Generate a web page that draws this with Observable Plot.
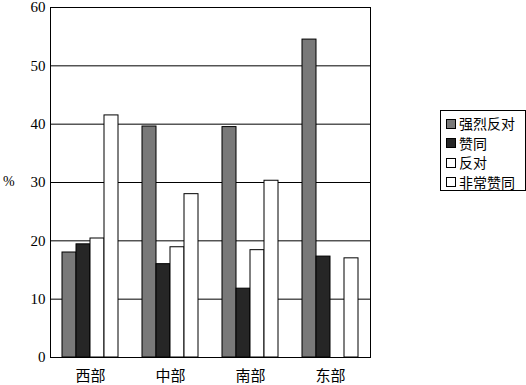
<!DOCTYPE html>
<html><head><meta charset="utf-8">
<script src="https://cdn.jsdelivr.net/npm/d3@7"></script>
<script src="https://cdn.jsdelivr.net/npm/@observablehq/plot@0.6"></script>
<style>
body{margin:0;background:#fff;}
#wrap{position:relative;width:526px;height:385px;font-family:"Liberation Serif","Times New Roman","Tinos","DejaVu Serif","Noto Sans CJK SC",serif;}
#wrap svg, #wrap svg text{font-family:"Liberation Serif","Times New Roman","Tinos","DejaVu Serif","Noto Sans CJK SC",serif !important;}
#legend{position:absolute;left:440px;top:110px;width:86px;height:81px;border:1px solid #000;box-sizing:border-box;padding:3px 0 0 5px;font-size:14px;line-height:19.5px;font-family:"Noto Sans CJK SC",serif;}
#legend .row{display:flex;align-items:center;white-space:nowrap;}
#legend .sw{width:10px;height:10px;border:1px solid #000;box-sizing:border-box;margin-right:3px;flex:none;}
#pct{position:absolute;left:3px;top:174px;font-size:14px;}
</style></head>
<body><div id="wrap"><div id="pct">%</div><div id="legend"></div></div>
<script>
const regions = ["西部", "中部", "南部", "东部"];
const series = ["强烈反对", "赞同", "反对", "非常赞同"];
const strongOppose = [18.0, 39.6, 39.5, 54.5];
const agree = [19.4, 16.0, 11.8, 17.3];
const oppose = [20.4, 18.9, 18.4, null];
const stronglyAgree = [41.5, 28.0, 30.3, 17.0];
const yTicks = [0, 10, 20, 30, 40, 50, 60];
const colors = ["#797979", "#262626", "#ffffff", "#ffffff"];

const cols = [strongOppose, agree, oppose, stronglyAgree];
const data = [];
regions.forEach((r, i) => series.forEach((s, j) => {
  if (cols[j][i] != null) data.push({region: r, series: s, value: cols[j][i]});
}));

const chart = Plot.plot({
  width: 526, height: 385,
  marginLeft: 48, marginRight: 155, marginTop: 7, marginBottom: 28,
  style: {fontSize: "15px", background: "white", color: "black"},
  fx: {domain: regions, padding: 0, label: null, tickSize: 0, tickPadding: 13},
  x: {domain: series, axis: null, paddingInner: 0, paddingOuter: 0.7},
  y: {domain: [0, 60], ticks: yTicks, label: null, tickSize: 0, tickPadding: 5},
  color: {domain: series, range: colors},
  marks: [
    Plot.ruleY(yTicks.slice(1), {stroke: "#000", strokeWidth: 1}),
    Plot.barY(data, {fx: "region", x: "series", y: "value", fill: "series", stroke: "#000", strokeWidth: 1}),
    Plot.ruleY([0], {stroke: "#000", strokeWidth: 1.2}),
    Plot.frame({facet: "super", stroke: "#000"})
  ]
});
document.getElementById("wrap").prepend(chart);
const lg = document.getElementById("legend");
series.forEach((s, i) => {
  const row = document.createElement("div");
  row.className = "row";
  row.innerHTML = `<span class="sw" style="background:${colors[i]}"></span><span>${s}</span>`;
  lg.appendChild(row);
});
</script></body></html>
